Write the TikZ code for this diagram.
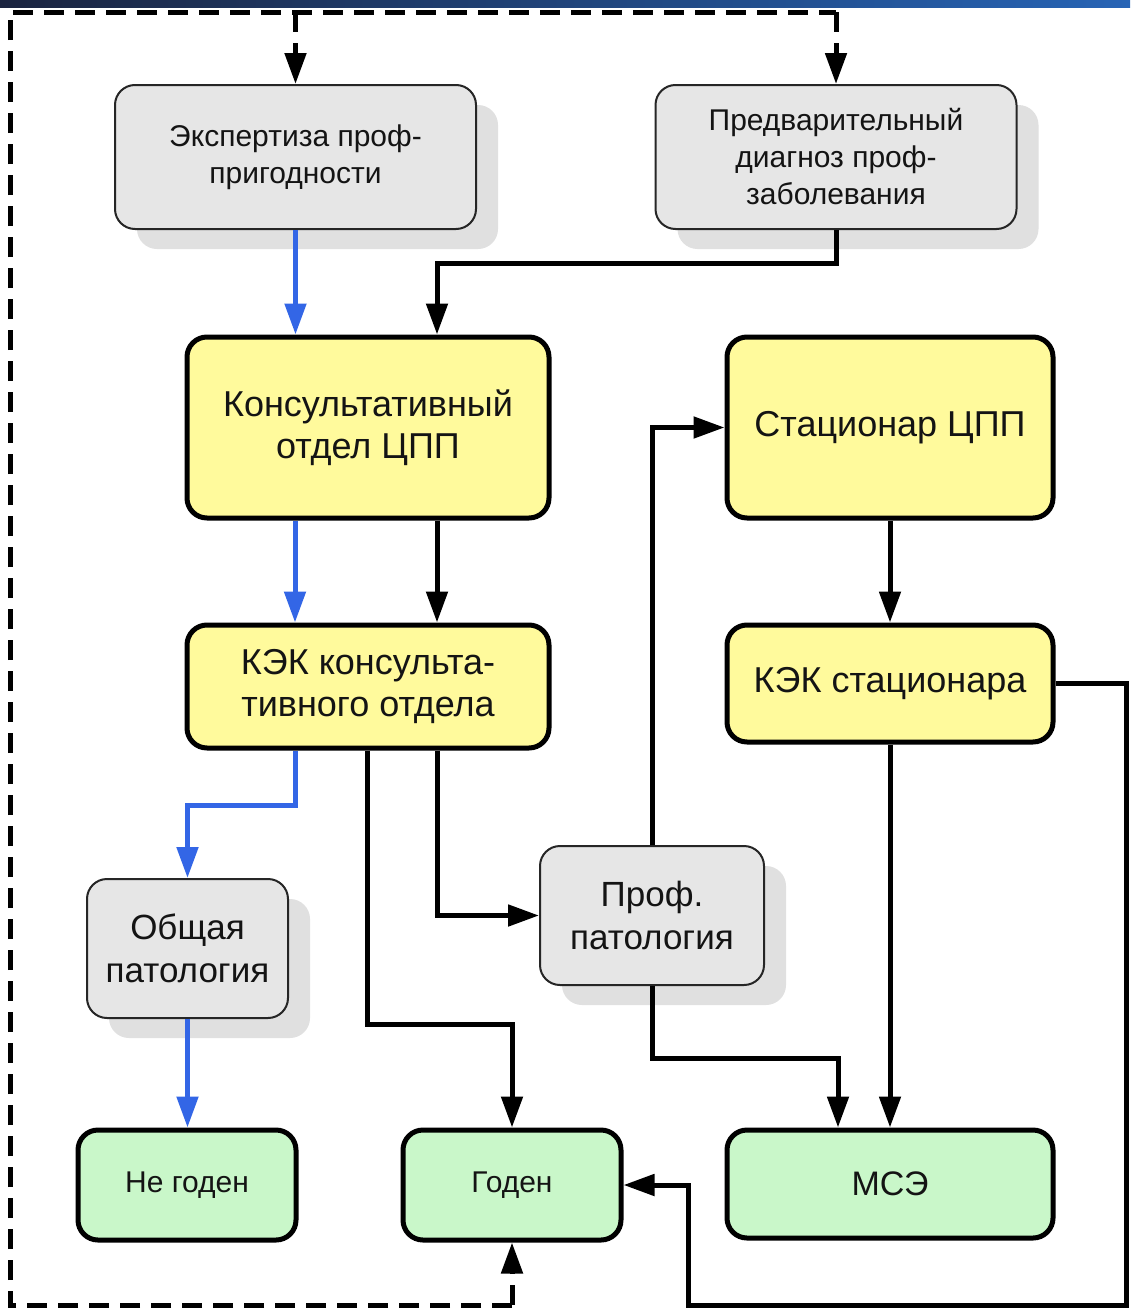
\documentclass[tikz,border=0pt]{standalone}
\usepackage{fontspec}
\setmainfont{Liberation Sans}
\usetikzlibrary{arrows.meta,shadows}
\definecolor{yel}{HTML}{FFFA9C}
\definecolor{grn}{HTML}{C9F7C9}
\definecolor{gry}{HTML}{E6E6E6}
\definecolor{shd}{HTML}{E0E0E0}
\definecolor{blu}{HTML}{3366E6}
\definecolor{txt}{HTML}{141414}
\definecolor{barL}{HTML}{1B2440}
\definecolor{barR}{HTML}{2764B5}
\begin{document}
\begin{tikzpicture}[x=1pt,y=-1pt,
  base/.style={rounded corners=20pt, align=center, inner sep=0pt, text=txt},
  graybox/.style={base, draw=black!85, line width=2pt, fill=gry,
     drop shadow={shadow xshift=22pt, shadow yshift=-20pt, fill=shd, opacity=1}},
  yelbox/.style={base, draw=black, line width=5pt, fill=yel},
  grnbox/.style={base, draw=black, line width=5pt, fill=grn},
  fsmall/.style={font=\fontsize{30}{37}\selectfont},
  fbig/.style={font=\fontsize{36}{42}\selectfont},
  conn/.style={line width=5pt, draw=black, -{Triangle[length=31pt,width=21pt]}},
  bconn/.style={conn, draw=blu, -{Triangle[length=31pt,width=21pt,fill=blu]}},
  dline/.style={line width=5pt, draw=black, dash pattern=on 20pt off 11pt},
  dconn/.style={dline, -{Triangle[length=31pt,width=21pt]}}
]
\useasboundingbox (0,0) rectangle (1130,1309);
\fill[white] (0,0) rectangle (1130,1309);
\shade[left color=barL, right color=barR] (0,0) rectangle (1130,7);

% nodes
\node[graybox, fsmall, minimum width=361pt, minimum height=144pt] (exp) at (295.5,157) {Экспертиза проф-\\пригодности};
\node[graybox, fsmall, minimum width=361pt, minimum height=144pt] (pred) at (836,157) {Предварительный\\диагноз проф-\\заболевания};
\node[yelbox, fbig, minimum width=362pt, minimum height=181pt] (kons) at (368,427.5) {Консультативный\\отдел ЦПП};
\node[yelbox, fbig, minimum width=326pt, minimum height=181pt] (stac) at (890,427.5) {Стационар ЦПП};
\node[yelbox, fbig, minimum width=362pt, minimum height=123pt] (kek1) at (368,686.5) {КЭК консульта-\\тивного отдела};
\node[yelbox, fbig, minimum width=326pt, minimum height=117pt] (kek2) at (890,683.5) {КЭК стационара};
\node[graybox, minimum width=201pt, minimum height=139pt, font=\fontsize{35}{43}\selectfont] (obsh) at (187.5,948.5) {Общая\\патология};
\node[graybox, minimum width=224pt, minimum height=139pt, font=\fontsize{35}{43}\selectfont] (prof) at (652,915.5) {Проф.\\патология};
\node[grnbox, fsmall, minimum width=218pt, minimum height=110pt] (negod) at (187,1185) {Не годен};
\node[grnbox, fsmall, minimum width=218pt, minimum height=110pt] (goden) at (512,1185) {Годен};
\node[grnbox, font=\fontsize{34}{40}\selectfont, minimum width=326pt, minimum height=108pt] (mse) at (890,1184) {МСЭ};

% helper coordinates
\coordinate (dTL) at (10,12);
\coordinate (dBL) at (10,1305);
\coordinate (b1) at (437,263);
\coordinate (r1) at (1126,1305);
\coordinate (r2) at (688,1305);

% dashed frame
\draw[dline] (goden.south |- dBL) -- (dBL) -- (dTL) -- (pred.north |- dTL);
\draw[dconn] (exp.north |- dTL) -- (exp.north);
\draw[dconn] (pred.north |- dTL) -- (pred.north);
\draw[dconn] (goden.south |- dBL) -- (goden.south);

% connectors
\draw[bconn] (exp.south) -- (exp.south |- kons.north);
\draw[conn] (pred.south) |- (b1) -- (b1 |- kons.north);
\draw[bconn] ([xshift=-73pt]kons.south) -- ([xshift=-73pt]kek1.north);
\draw[conn] ([xshift=69pt]kons.south) -- ([xshift=69pt]kek1.north);
\draw[bconn] ([xshift=-73pt]kek1.south) -- ++(0,55) -| (obsh.north);
\draw[conn] ([xshift=-1pt]kek1.south) -- ++(0,274) -| (goden.north);
\draw[conn] ([xshift=69pt]kek1.south) |- (prof.west);
\draw[conn] (prof.north) |- (stac.west);
\draw[conn] (stac.south) -- (kek2.north);
\draw[conn] (kek2.south) -- (mse.north);
\draw[conn] (prof.south) -- ++(0,72) -| ([xshift=-52pt]mse.north);
\draw[conn] (kek2.east) -| (r1) -- (r2) |- (goden.east);
\draw[bconn] (obsh.south) -- (obsh.south |- negod.north);
\end{tikzpicture}
\end{document}
